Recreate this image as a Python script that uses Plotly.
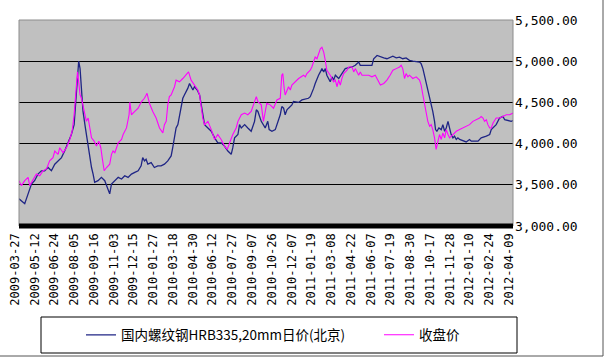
import plotly.graph_objects as go

# ---- data (x = position along the category axis, in tick-label units) ----
tick_labels = ["2009-03-27", "2009-05-12", "2009-06-24", "2009-08-05", "2009-09-16",
               "2009-11-03", "2009-12-15", "2010-01-27", "2010-03-18", "2010-04-30",
               "2010-06-12", "2010-07-27", "2010-09-07", "2010-10-26", "2010-12-07",
               "2011-01-19", "2011-03-08", "2011-04-22", "2011-06-07", "2011-07-19",
               "2011-08-30", "2011-10-17", "2011-11-28", "2012-01-10", "2012-02-24",
               "2012-04-09"]

rebar_x = [0.00, 0.29, 0.46, 0.63, 0.79, 0.96, 1.13, 1.30, 1.47, 1.64, 1.81, 1.98, 2.15, 2.31,
           2.48, 2.65, 2.79, 2.87, 2.96, 3.02, 3.09, 3.16, 3.24, 3.36, 3.46, 3.58, 3.67, 3.75,
           3.83, 4.00, 4.17, 4.34, 4.51, 4.59, 4.68, 4.85, 5.02, 5.19, 5.35, 5.52, 5.69, 5.86,
           6.03, 6.18, 6.26, 6.35, 6.43, 6.52, 6.69, 6.85, 7.02, 7.19, 7.36, 7.53, 7.70, 7.78,
           7.87, 7.95, 8.04, 8.12, 8.21, 8.29, 8.37, 8.46, 8.54, 8.63, 8.71, 8.80, 8.88, 9.02,
           9.14, 9.22, 9.30, 9.39, 9.56, 9.73, 9.90, 10.06, 10.23, 10.40, 10.57, 10.74, 10.82,
           10.91, 11.08, 11.16, 11.25, 11.42, 11.58, 11.75, 11.92, 12.01, 12.09, 12.26, 12.46,
           12.59, 12.66, 12.80, 12.97, 13.05, 13.13, 13.22, 13.30, 13.39, 13.47, 13.56, 13.64,
           13.81, 13.89, 14.15, 14.32, 14.65, 14.74, 14.82, 14.91, 14.99, 15.08, 15.16, 15.25,
           15.33, 15.42, 15.50, 15.58, 15.67, 15.75, 15.84, 15.92, 16.01, 16.18, 16.34, 16.51,
           16.85, 17.02, 17.19, 17.27, 17.86, 17.95, 18.12, 18.29, 18.46, 18.62, 18.92, 19.09,
           19.26, 19.42, 19.59, 19.76, 19.93, 20.27, 20.35, 20.44, 20.52, 20.61, 20.69, 20.78,
           20.86, 20.94, 21.03, 21.08, 21.15, 21.25, 21.37, 21.45, 21.54, 21.62, 21.71, 21.79,
           21.87, 21.96, 22.04, 22.13, 22.21, 22.30, 22.47, 22.63, 22.80, 22.89, 23.23, 23.39,
           23.65, 23.82, 23.90, 24.07, 24.15, 24.32, 24.49, 24.58, 24.75, 24.91, 25.00]
rebar_y = [3330, 3270, 3390, 3510, 3550, 3630, 3670, 3670, 3710, 3670, 3750, 3790, 3830, 3910,
           4010, 4110, 4230, 4470, 4830, 5000, 4910, 4670, 4390, 4190, 4030, 3870, 3710, 3630,
           3530, 3550, 3590, 3550, 3450, 3390, 3510, 3550, 3590, 3570, 3610, 3590, 3630, 3650,
           3670, 3730, 3830, 3790, 3810, 3750, 3770, 3710, 3730, 3730, 3750, 3790, 3850, 3950,
           4070, 4190, 4230, 4350, 4470, 4550, 4590, 4630, 4670, 4730, 4690, 4650, 4690, 4650,
           4590, 4470, 4350, 4230, 4190, 4150, 4070, 4010, 4010, 3970, 3910, 3870, 3950,
           4070, 4110, 4230, 4190, 4230, 4190, 4150, 4270, 4410, 4390, 4270, 4190,
           4270, 4170, 4150, 4170, 4230, 4310, 4350, 4450, 4430, 4350, 4410, 4430,
           4470, 4510, 4500, 4530, 4550, 4570, 4610, 4670, 4730, 4790, 4830, 4870,
           4910, 4870, 4910, 4830, 4790, 4750, 4810, 4770, 4830, 4790, 4850, 4910,
           4930, 4950, 4990, 4950, 4950, 5030, 5070, 5050, 5040, 5030, 5060, 5040,
           5050, 5030, 5040, 5010, 5000, 4990, 4970, 4910, 4830, 4710, 4630, 4550,
           4490, 4390, 4270, 4170, 4150, 4190, 4170, 4230, 4150, 4190, 4270, 4170,
           4110, 4070, 4090, 4050, 4070, 4050, 4030, 4020, 4050, 4030, 4030, 4070,
           4090, 4110, 4170, 4210, 4230, 4310, 4330, 4290, 4280, 4270, 4280]

close_x = [0.00, 0.12, 0.29, 0.46, 0.54, 0.71, 0.88, 1.05, 1.22, 1.39, 1.55, 1.72, 1.81, 1.98,
           2.06, 2.23, 2.40, 2.57, 2.69, 2.79, 2.87, 2.96, 3.02, 3.09, 3.16, 3.24, 3.33, 3.41,
           3.50, 3.58, 3.67, 3.80, 3.92, 4.04, 4.14, 4.21, 4.31, 4.43, 4.59, 4.68, 4.76, 4.85,
           5.02, 5.19, 5.27, 5.44, 5.57, 5.61, 5.69, 5.86, 6.03, 6.20, 6.35, 6.48, 6.60, 6.77,
           6.94, 7.11, 7.28, 7.36, 7.45, 7.53, 7.61, 7.70, 7.87, 7.95, 8.12, 8.29, 8.46, 8.58,
           8.71, 8.88, 9.05, 9.14, 9.22, 9.30, 9.39, 9.56, 9.73, 9.90, 10.06, 10.23, 10.40,
           10.54, 10.66, 10.82, 10.99, 11.08, 11.25, 11.42, 11.58, 11.75, 11.92, 12.01, 12.09,
           12.26, 12.37, 12.54, 12.71, 12.88, 13.05, 13.22, 13.30, 13.35, 13.42, 13.47, 13.64,
           13.73, 13.81, 13.98, 14.15, 14.40, 14.49, 14.57, 14.74, 14.82, 14.91, 14.99, 15.08,
           15.16, 15.25, 15.33, 15.42, 15.50, 15.58, 15.75, 15.92, 16.01, 16.09, 16.18, 16.26,
           16.34, 16.43, 16.60, 16.68, 16.85, 16.94, 17.02, 17.19, 17.27, 17.36, 17.70, 17.86,
           18.03, 18.12, 18.29, 18.46, 18.62, 18.78, 18.92, 19.09, 19.26, 19.34, 19.42, 19.51,
           19.59, 19.68, 19.76, 19.93, 20.10, 20.27, 20.35, 20.44, 20.52, 20.61, 20.69, 20.78,
           20.86, 20.94, 21.03, 21.11, 21.20, 21.28, 21.37, 21.45, 21.54, 21.62, 21.71, 21.79,
           21.96, 22.13, 22.30, 22.47, 22.63, 22.80, 22.97, 23.14, 23.31, 23.39, 23.48, 23.56,
           23.65, 23.73, 23.82, 23.90, 23.99, 24.15, 24.32, 24.49, 24.66, 24.83, 25.00]
close_y = [3550, 3490, 3550, 3590, 3490, 3570, 3630, 3610, 3670, 3690, 3790, 3830, 3910, 3870,
           3950, 3890, 3950, 4050, 4150, 4350, 4550, 4870, 4750, 4590, 4550, 4470, 4350, 4270,
           4310, 4190, 4070, 4030, 3970, 4030, 3950, 3830, 3670, 3710, 3750, 3870, 3910, 3890,
           4010, 4050, 4110, 4190, 4350, 4500, 4350, 4390, 4430, 4510, 4550, 4610, 4490, 4390,
           4310, 4190, 4130, 4230, 4270, 4470, 4570, 4590, 4690, 4770, 4750, 4790, 4830, 4870,
           4770, 4710, 4650, 4590, 4430, 4310, 4230, 4270, 4170, 4050, 4110, 4050, 3970,
           3930, 4010, 4110, 4190, 4270, 4350, 4370, 4350, 4390, 4510, 4570, 4510,
           4470, 4270, 4490, 4470, 4430, 4530, 4550, 4830, 4850, 4670, 4590, 4690,
           4650, 4710, 4750, 4790, 4830, 4810, 4850, 4890, 4930, 4990, 5050, 5030,
           5090, 5150, 5170, 5110, 5010, 4890, 4830, 4750, 4770, 4690, 4770, 4710,
           4790, 4850, 4890, 4930, 4930, 4870, 4910, 4830, 4870, 4830, 4830, 4810,
           4830, 4790, 4710, 4730, 4770, 4830, 4890, 4910, 4930, 4950, 4910, 4790,
           4850, 4810, 4830, 4790, 4810, 4770, 4710, 4590, 4470, 4350, 4270, 4210,
           4230, 4170, 4070, 3930, 4050, 4110, 4050, 4130, 4070, 4170, 4110, 4070,
           4110, 4150, 4170, 4190, 4210, 4230, 4270, 4290, 4310, 4330, 4310, 4270,
           4290, 4230, 4190, 4190, 4250, 4310, 4310, 4330, 4350, 4350, 4370]

series_names = ["国内螺纹钢HRB335,20mm日价(北京)", "收盘价"]
y_ticks = [3000, 3500, 4000, 4500, 5000, 5500]

# ---- figure ----
W, H = 605, 358
ML, MR, MT, MB = 19, 92, 20, 132
PW, PH = W - ML - MR, H - MT - MB


def px_x(p):
    return (p - ML) / PW


def px_y(p):
    return (H - MB - p) / PH


fig = go.Figure()
fig.add_trace(go.Scatter(x=rebar_x, y=rebar_y, mode="lines", name=series_names[0],
                         line=dict(color="#1F2585", width=1.3), legend="legend"))
fig.add_trace(go.Scatter(x=close_x, y=close_y, mode="lines", name=series_names[1],
                         line=dict(color="#FF00FF", width=1.1), legend="legend2"))

legend_font = dict(family="Noto Sans CJK SC", size=13.5, color="black")
fig.update_layout(
    width=W, height=H,
    margin=dict(l=ML, r=MR, t=MT, b=MB, autoexpand=False),
    paper_bgcolor="white",
    plot_bgcolor="#C0C0C0",
    showlegend=True,
    legend=dict(x=px_x(81), y=px_y(335), xanchor="left", yanchor="middle",
                bgcolor="rgba(0,0,0,0)", font=legend_font, borderwidth=0),
    legend2=dict(x=px_x(379), y=px_y(335), xanchor="left", yanchor="middle",
                 bgcolor="rgba(0,0,0,0)", font=legend_font, borderwidth=0),
    xaxis=dict(range=[0, 25], tickmode="array", tickvals=list(range(len(tick_labels))),
               ticktext=tick_labels, tickangle=-90, showgrid=False, zeroline=False,
               showline=False, ticks="", ticklabelshift=-4, ticklabelstandoff=4,
               tickfont=dict(family="DejaVu Sans Mono", size=12, color="black")),
    yaxis=dict(range=[3000, 5500], side="right", tickmode="array", tickvals=y_ticks,
               tickformat=",.2f", showgrid=True, gridcolor="black", gridwidth=1,
               zeroline=False, showline=False, ticks="", ticklabelstandoff=1,
               tickfont=dict(family="DejaVu Sans Mono", size=13, color="black")),
)

shapes = [
    # plot area border
    dict(type="rect", xref="paper", yref="paper", x0=0, x1=1, y0=0, y1=1,
         line=dict(color="#8C8C8C", width=1), layer="above"),
    # thick bottom axis line
    dict(type="line", xref="paper", yref="paper", x0=0, x1=1, y0=0, y1=0,
         line=dict(color="black", width=5), layer="above"),
    # legend box
    dict(type="rect", xref="paper", yref="paper", x0=px_x(41), x1=px_x(517),
         y0=px_y(353), y1=px_y(317), line=dict(color="black", width=1)),
    # outer chart border (right and bottom)
    dict(type="line", xref="paper", yref="paper", x0=px_x(603), x1=px_x(603),
         y0=px_y(0), y1=px_y(356), line=dict(color="#555555", width=1)),
    dict(type="line", xref="paper", yref="paper", x0=px_x(0), x1=px_x(603),
         y0=px_y(356), y1=px_y(356), line=dict(color="#555555", width=1)),
]
fig.update_layout(shapes=shapes)

fig.write_html("out.html", config={"displayModeBar": False},
               post_script="document.body.style.margin='0px';document.body.style.overflow='hidden';")
